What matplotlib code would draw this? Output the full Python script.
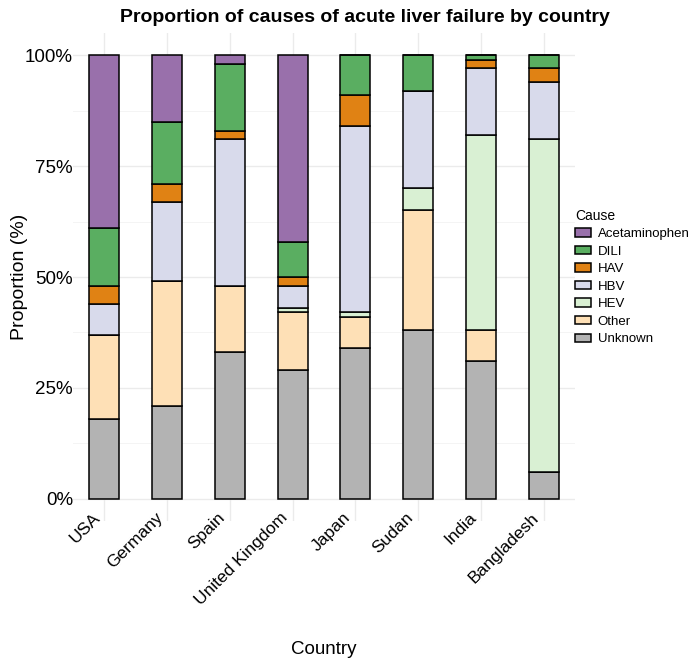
import matplotlib
matplotlib.use("Agg")
import matplotlib.pyplot as plt
from matplotlib.transforms import ScaledTranslation
import numpy as np

plt.rcParams['font.family'] = ['Liberation Sans', 'DejaVu Sans']

countries = ["USA", "Germany", "Spain", "United Kingdom", "Japan", "Sudan", "India", "Bangladesh"]
causes = ["Acetaminophen", "DILI", "HAV", "HBV", "HEV", "Other", "Unknown"]

# proportions (%) per country
acetaminophen = [39, 15, 2, 42, 0, 0, 0, 0]
dili = [13, 14, 15, 8, 9, 8, 1, 3]
hav = [4, 4, 2, 2, 7, 0, 2, 3]
hbv = [7, 18, 33, 5, 42, 22, 15, 13]
hev = [0, 0, 0, 1, 1, 5, 44, 75]
other = [19, 28, 15, 13, 7, 27, 7, 0]
unknown = [18, 21, 33, 29, 34, 38, 31, 6]

colors = {
    "Acetaminophen": "#9970AB",
    "DILI": "#5AAE61",
    "HAV": "#E08214",
    "HBV": "#D8DAEB",
    "HEV": "#D9F0D3",
    "Other": "#FEE0B6",
    "Unknown": "#B3B3B3",
}

values = {"Acetaminophen": acetaminophen, "DILI": dili, "HAV": hav, "HBV": hbv,
          "HEV": hev, "Other": other, "Unknown": unknown}

W, H = 692, 672
fig = plt.figure(figsize=(W / 100, H / 100), dpi=100)
# panel from x=73..575 px, y=33..521 px
ax = fig.add_axes([73 / W, 1 - 521 / H, (575 - 73) / W, (521 - 33) / H])

x = np.arange(len(countries))
bottom = np.zeros(len(countries))
# stack from the bottom: Unknown first
for c in causes[::-1]:
    v = np.array(values[c], dtype=float)
    ax.bar(x, v, width=0.48, bottom=bottom, color=colors[c], edgecolor="black",
           linewidth=1.1, label=c, zorder=3)
    bottom += v

ax.set_xlim(-0.5, len(countries) - 0.5)
ax.set_ylim(-5, 105)
ax.set_yticks([0, 25, 50, 75, 100])
ax.set_yticklabels(["0%", "25%", "50%", "75%", "100%"])
ax.set_yticks([12.5, 37.5, 62.5, 87.5], minor=True)
ax.set_xticks(x)
ax.set_xticklabels(countries, rotation=45, ha="right", va="center", rotation_mode="anchor")

ax.grid(True, which="major", color="#EBEBEB", linewidth=1.0, zorder=0)
ax.grid(True, which="minor", axis="y", color="#F2F2F2", linewidth=0.6, zorder=0)
for s in ax.spines.values():
    s.set_visible(False)
ax.tick_params(which="both", length=0, colors="black")
ax.tick_params(axis="y", pad=0, labelsize=13.5)
ax.tick_params(axis="x", pad=6, labelsize=12.5)
# nudge rotated labels up and left, like the ggplot layout
shift = ScaledTranslation(-0.07, 0.14, fig.dpi_scale_trans)
for lab in ax.get_xticklabels():
    lab.set_transform(lab.get_transform() + shift)

ax.set_xlabel("Country", fontsize=13.5)
ax.xaxis.set_label_coords(0.5, -(650 - 521) / (521 - 33))
ax.xaxis.label.set_va("center")
ax.set_ylabel("Proportion (%)", fontsize=14)
ax.yaxis.set_label_coords(-(73 - 28) / (575 - 73), 0.5)
fig.text(365 / W, 1 - 18 / H, "Proportion of causes of acute liver failure by country",
         fontsize=14, fontweight="bold", ha="center", va="center")

h, l = ax.get_legend_handles_labels()
leg = ax.legend(h[::-1], l[::-1], title="Cause", loc="center left",
                bbox_to_anchor=(1.0 - 9 / 502, 0.5),
                frameon=False, fontsize=9.5, title_fontsize=10, handlelength=1.2,
                handleheight=0.6, labelspacing=0.42, handletextpad=0.5, borderaxespad=0.3)
leg._legend_box.align = "left"

fig.savefig("out.png", dpi=100)
